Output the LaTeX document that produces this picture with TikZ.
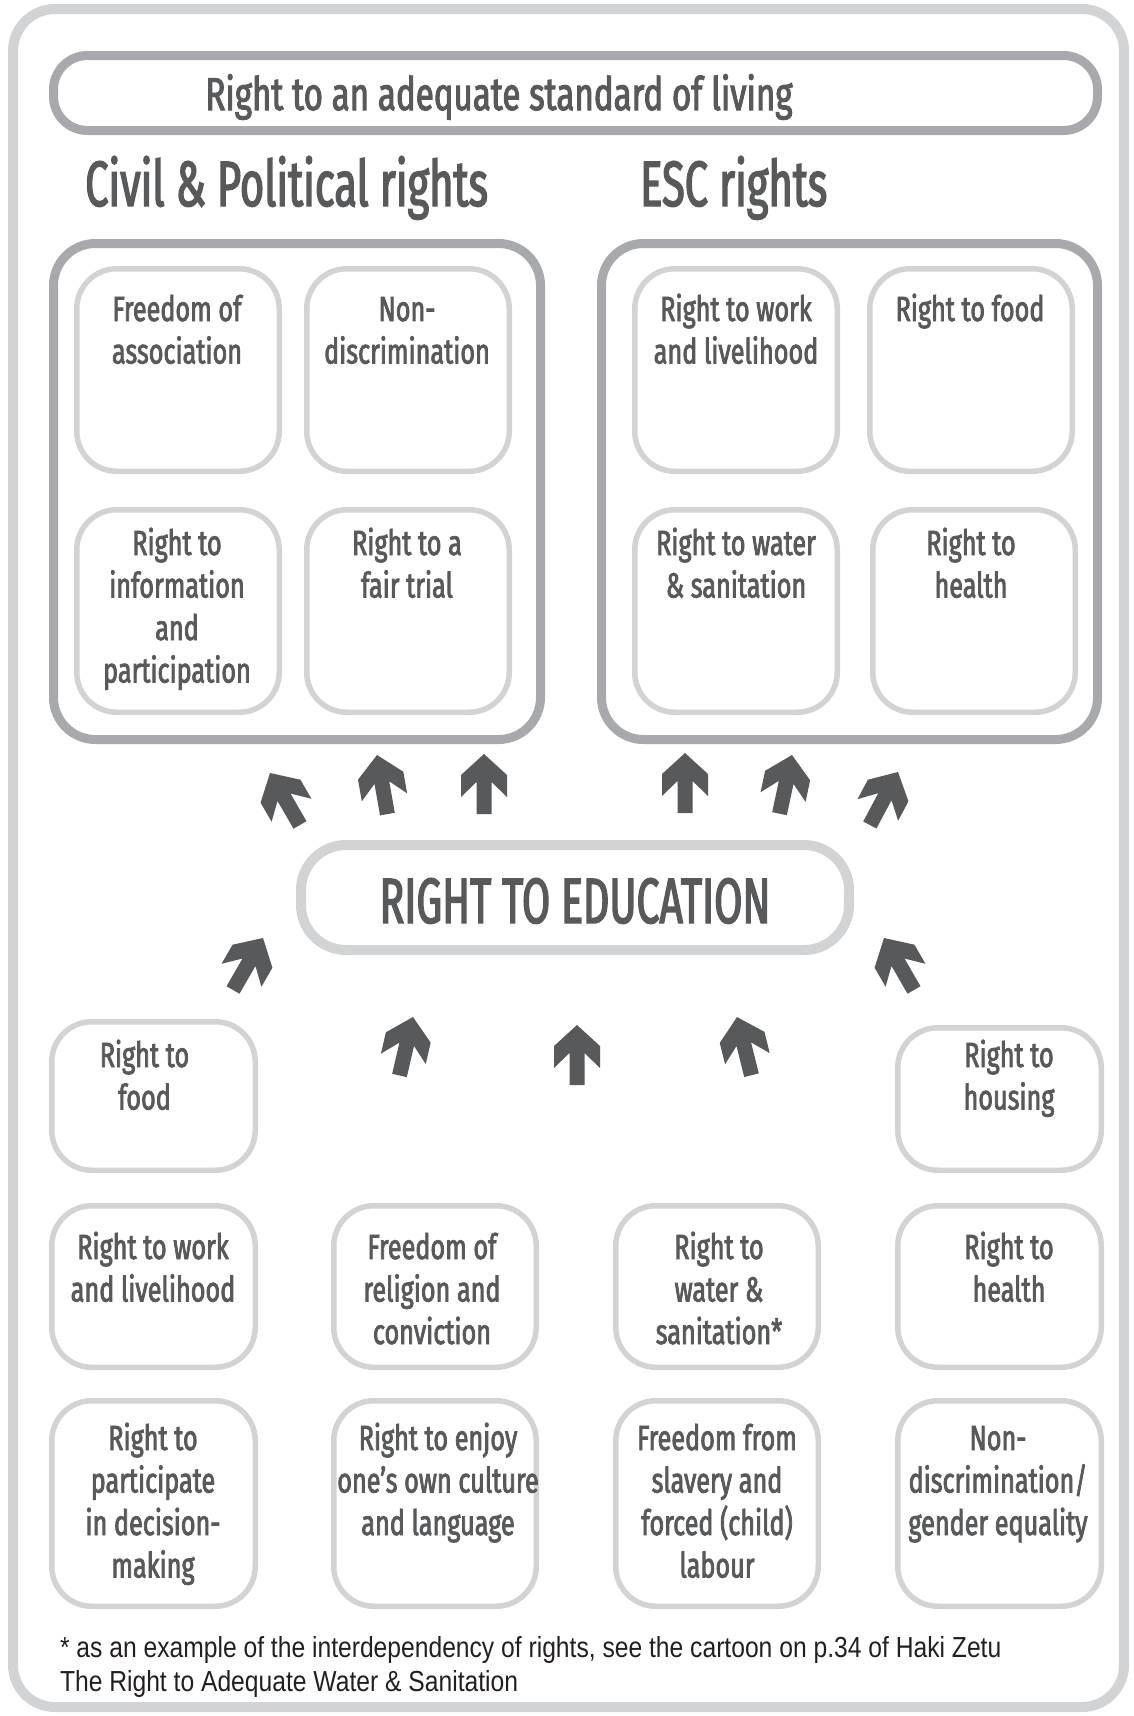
\documentclass[tikz,border=0pt]{standalone}
\usepackage{fontspec}
\setmainfont{Fira Sans}
\newfontfamily\hand[FakeStretch=0.72,FakeBold=2.2]{Fira Sans}
\newfontfamily\handtitle[FakeStretch=0.65,FakeBold=2.2]{Fira Sans}
\newfontfamily\handcaps[FakeStretch=0.64,FakeBold=2.2]{Fira Sans}
\newfontfamily\footfont[FakeStretch=0.85]{Liberation Sans}
\definecolor{txt}{HTML}{58595B}
\definecolor{dgray}{HTML}{A7A9AC}
\definecolor{lgray}{HTML}{D1D3D4}
\definecolor{foottxt}{HTML}{231F20}
\newcommand\boxnode[7]{\node[#1, minimum width={#5-#3-#7}, minimum height={#6-#4-#7}] (#2) at ({(#3+#5)/2},{(#4+#6)/2}) {};}
\newcommand\btext[4]{\node[btxt] (#1) at (#2,#3-30) {\rule{0pt}{30pt}#4};}
\tikzset{
  lbox/.style={draw=lgray, line width=5.5pt, rounded corners=40pt, inner sep=0pt, outer sep=0pt},
  gbox/.style={draw=dgray, line width=9pt, rounded corners=42pt, inner sep=0pt, outer sep=0pt},
  topbox/.style={draw=dgray, line width=9pt, rounded corners=34pt, inner sep=0pt, outer sep=0pt},
  edubox/.style={draw=lgray, line width=10pt, rounded corners=45pt, inner sep=0pt, outer sep=0pt},
  btxt/.style={text=txt, font=\hand\fontsize{35}{42.5}\selectfont, align=center, inner sep=0pt, outer sep=0pt, anchor=north},
  uparr/.pic={\fill[txt] (0,0)--(23,21)--(23,43)--(7.5,28)--(7.5,60)--(-7.5,60)--(-7.5,28)--(-23,43)--(-23,21)--cycle;}
}
\begin{document}
\begin{tikzpicture}[x=1pt,y=-1pt]
\useasboundingbox (0,0) rectangle (1134,1716);
% outer frame
\draw[draw=lgray, line width=10pt, rounded corners=42pt] (13,9) rectangle (1124,1707);
% top box
\boxnode{topbox}{top}{49}{51}{1102}{135}{9}
\node[text=txt, font=\hand\fontsize{46}{52}\selectfont, anchor=base, inner sep=0pt] (toptxt) at (499,110) {Right to an adequate standard of living};
% section titles
\node[text=txt, font=\handtitle\fontsize{64}{70}\selectfont, anchor=base west, inner sep=0pt] (cptitle) at (85,206) {Civil \& Political rights};
\node[text=txt, font=\handtitle\fontsize{64}{70}\selectfont, anchor=base west, inner sep=0pt] (esctitle) at (640,206) {ESC rights};
% group boxes
\boxnode{gbox}{gl}{49}{239}{545}{744}{9}
\boxnode{gbox}{gr}{597}{239}{1102}{744}{9}
% inner boxes left
\boxnode{lbox}{l1}{74}{266}{282}{474}{5.5}
\boxnode{lbox}{l2}{304}{266}{512}{474}{5.5}
\boxnode{lbox}{l3}{74}{507}{282}{715}{5.5}
\boxnode{lbox}{l4}{304}{507}{512}{715}{5.5}
\btext{l1t}{177}{321}{Freedom of\\association}
\btext{l2t}{407}{321}{Non-\\discrimination}
\btext{l3t}{177}{555}{Right to\\information\\and\\participation}
\btext{l4t}{407}{555}{Right to a\\fair trial}
% inner boxes right
\boxnode{lbox}{r1}{632}{266}{840}{474}{5.5}
\boxnode{lbox}{r2}{867}{266}{1075}{474}{5.5}
\boxnode{lbox}{r3}{632}{507}{840}{715}{5.5}
\boxnode{lbox}{r4}{870}{507}{1078}{715}{5.5}
\btext{r1t}{736}{321}{Right to work\\and livelihood}
\btext{r2t}{970}{321}{Right to food}
\btext{r3t}{736}{555}{Right to water\\\& sanitation}
\btext{r4t}{971}{555}{Right to\\health}
% education
\boxnode{edubox}{edu}{296}{840}{854}{955}{10}
\node[text=txt, font=\handcaps\fontsize{64}{70}\selectfont, anchor=base, inner sep=0pt] (edutxt) at (575,923) {RIGHT TO EDUCATION};
% arrows up
\pic[rotate=30] at (270,773) {uparr};
\pic[rotate=10] at (377,755) {uparr};
\pic at (484,754) {uparr};
\pic at (685,753) {uparr};
\pic[rotate=-12] at (792,755) {uparr};
\pic[rotate=-28] at (898,772) {uparr};
% arrows into education
\pic[rotate=-30] at (263,938) {uparr};
\pic[rotate=-13] at (413,1017) {uparr};
\pic at (577,1025) {uparr};
\pic[rotate=14] at (737,1017) {uparr};
\pic[rotate=30] at (884,938) {uparr};
% lower boxes
\boxnode{lbox}{a1}{49}{1019}{258}{1173}{5.5}
\boxnode{lbox}{a4}{895}{1025}{1104}{1173}{5.5}
\btext{a1t}{144.5}{1067}{Right to\\food}
\btext{a4t}{1009}{1067}{Right to\\housing}
\boxnode{lbox}{b1}{49}{1203}{258}{1370}{5.5}
\boxnode{lbox}{b2}{331}{1203}{539}{1370}{5.5}
\boxnode{lbox}{b3}{613}{1203}{821}{1370}{5.5}
\boxnode{lbox}{b4}{895}{1203}{1104}{1370}{5.5}
\btext{b1t}{153}{1259}{Right to work\\and livelihood}
\btext{b2t}{432}{1259}{Freedom of\\religion and\\conviction}
\btext{b3t}{719}{1259}{Right to\\water \&\\sanitation*}
\btext{b4t}{1009}{1259}{Right to\\health}
\boxnode{lbox}{c1}{49}{1398}{258}{1609}{5.5}
\boxnode{lbox}{c2}{331}{1398}{539}{1609}{5.5}
\boxnode{lbox}{c3}{613}{1398}{821}{1609}{5.5}
\boxnode{lbox}{c4}{895}{1398}{1104}{1609}{5.5}
\btext{c1t}{153}{1450}{Right to\\participate\\in decision-\\making}
\btext{c2t}{438}{1450}{Right to enjoy\\one’s own culture\\and language}
\btext{c3t}{717}{1450}{Freedom from\\slavery and\\forced (child)\\labour}
\btext{c4t}{998}{1450}{Non-\\discrimination/\\gender equality}
% footnote
\node[text=foottxt, font=\footfont\fontsize{29}{34}\selectfont, align=left, anchor=north west, inner sep=0pt, outer sep=0pt] (foot) at (60,1657-28) {\rule{0pt}{28pt}* as an example of the interdependency of rights, see the cartoon on p.34 of Haki Zetu\\The Right to Adequate Water \& Sanitation};
\end{tikzpicture}
\end{document}
